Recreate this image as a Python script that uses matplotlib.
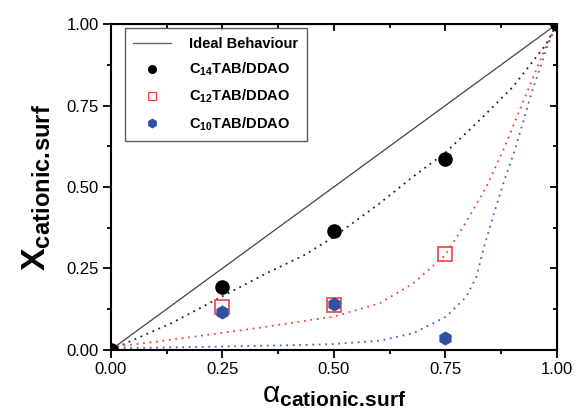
import matplotlib
matplotlib.use('Agg')
import matplotlib.pyplot as plt
from matplotlib.lines import Line2D

plt.rcParams['font.family'] = 'Liberation Sans'
plt.rcParams['mathtext.fontset'] = 'custom'
plt.rcParams['mathtext.rm'] = 'Liberation Sans'
plt.rcParams['mathtext.bf'] = 'Liberation Sans:bold'
plt.rcParams['mathtext.it'] = 'Liberation Sans:italic'

# measured mixtures
alpha_pts = [0.0, 0.25, 0.5, 0.75, 1.0]
c14_x = [0.0, 0.194, 0.365, 0.587, 1.0]
alpha_mid = [0.25, 0.5, 0.75]
c12_x = [0.133, 0.137, 0.293]
c10_x = [0.117, 0.142, 0.036]

# fitted curves
c14_fit_a = [0.0, 0.136, 0.2, 0.248, 0.349, 0.434, 0.498, 0.603, 0.678, 0.75, 0.835, 0.902, 0.975, 1.0]
c14_fit_x = [0.0, 0.082, 0.128, 0.163, 0.235, 0.291, 0.345, 0.45, 0.532, 0.605, 0.716, 0.808, 0.936, 1.0]
c12_fit_a = [0.0, 0.136, 0.2, 0.334, 0.434, 0.5, 0.603, 0.678, 0.75, 0.797, 0.842, 0.88, 0.932, 0.977, 1.0]
c12_fit_x = [0.008, 0.031, 0.043, 0.068, 0.089, 0.102, 0.143, 0.204, 0.291, 0.393, 0.5, 0.613, 0.787, 0.936, 1.0]
c10_fit_a = [0.0, 0.2, 0.434, 0.5, 0.603, 0.678, 0.752, 0.797, 0.82, 0.835, 0.857, 0.88, 0.906, 0.943, 0.98, 1.0]
c10_fit_x = [0.005, 0.009, 0.015, 0.018, 0.028, 0.051, 0.102, 0.163, 0.225, 0.307, 0.409, 0.511, 0.613, 0.787, 0.936, 1.0]

red = '#f04040'
blue = '#3050a0'
blue_line = '#5060c0'

fig = plt.figure(figsize=(5.77, 4.16), dpi=100)
ax = fig.add_axes([0.192, 0.159, 0.773, 0.783])

# ideal behaviour
ax.plot([0, 1], [0, 1], color='#444444', lw=0.9)

dot = (0, (1, 2.6))
ax.plot(c14_fit_a, c14_fit_x, color='#222222', lw=1.3, linestyle=dot)
ax.plot(c12_fit_a, c12_fit_x, color=red, lw=1.3, linestyle=dot)
ax.plot(c10_fit_a, c10_fit_x, color=blue_line, lw=1.3, linestyle=dot)

ax.plot(alpha_pts, c14_x, 'o', color='black', ms=9.5, ls='none')
ax.plot(alpha_mid, c12_x, 's', mfc='none', mec=red, mew=1.2, ms=10, ls='none')
ax.plot(alpha_mid, c10_x, 'h', color=blue, ms=9, ls='none')

ax.set_xlim(0, 1)
ax.set_ylim(0, 1)
ax.set_xticks([0, 0.25, 0.5, 0.75, 1.0])
ax.set_yticks([0, 0.25, 0.5, 0.75, 1.0])
ax.set_xticks([0.125, 0.375, 0.625, 0.875], minor=True)
ax.set_yticks([0.125, 0.375, 0.625, 0.875], minor=True)
ax.xaxis.set_major_formatter(plt.FormatStrFormatter('%.2f'))
ax.yaxis.set_major_formatter(plt.FormatStrFormatter('%.2f'))

for s in ax.spines.values():
    s.set_linewidth(1.5)

ax.tick_params(which='both', direction='out', width=1.3, labelsize=12, top=False, right=False)
ax.tick_params(which='major', length=5.5, pad=3)
ax.tick_params(which='minor', length=3)

# inward ticks on top and right
ax2 = ax.secondary_xaxis('top')
ax2.set_xticks([0, 0.25, 0.5, 0.75, 1.0])
ax2.set_xticks([0.125, 0.375, 0.625, 0.875], minor=True)
ax2.tick_params(which='both', direction='in', width=1.3, labeltop=False)
ax2.tick_params(which='major', length=5)
ax2.tick_params(which='minor', length=3)
ax3 = ax.secondary_yaxis('right')
ax3.set_yticks([0, 0.25, 0.5, 0.75, 1.0])
ax3.set_yticks([0.125, 0.375, 0.625, 0.875], minor=True)
ax3.tick_params(which='both', direction='in', width=1.3, labelright=False)
ax3.tick_params(which='major', length=5)
ax3.tick_params(which='minor', length=3)

ax.set_xlabel(r'α$_{\mathbf{cationic.\!surf}}$', fontsize=21.5, labelpad=3)
ax.set_ylabel(r'$\mathbf{X_{cationic.\!surf}}$', fontsize=24.5, labelpad=10)

handles = [
    Line2D([], [], color='#666666', lw=1.0),
    Line2D([], [], marker='o', color='black', ls='none', ms=5.5),
    Line2D([], [], marker='s', mfc='none', mec=red, ls='none', ms=5.5, mew=0.9),
    Line2D([], [], marker='h', color=blue, ls='none', ms=6),
]
labels = ['Ideal Behaviour',
          r'$\mathbf{C_{14}TAB/DDAO}$',
          r'$\mathbf{C_{12}TAB/DDAO}$',
          r'$\mathbf{C_{10}TAB/DDAO}$']
leg = ax.legend(handles, labels, loc='upper left', bbox_to_anchor=(0.031, 0.988),
                borderaxespad=0,
                prop={'weight': 'bold', 'size': 10.5}, frameon=True, fancybox=False,
                edgecolor='#333333', borderpad=0.6, labelspacing=0.68,
                handlelength=2.6, handletextpad=1.2)
leg.get_frame().set_linewidth(1.0)

fig.savefig('out.png', dpi=100)
